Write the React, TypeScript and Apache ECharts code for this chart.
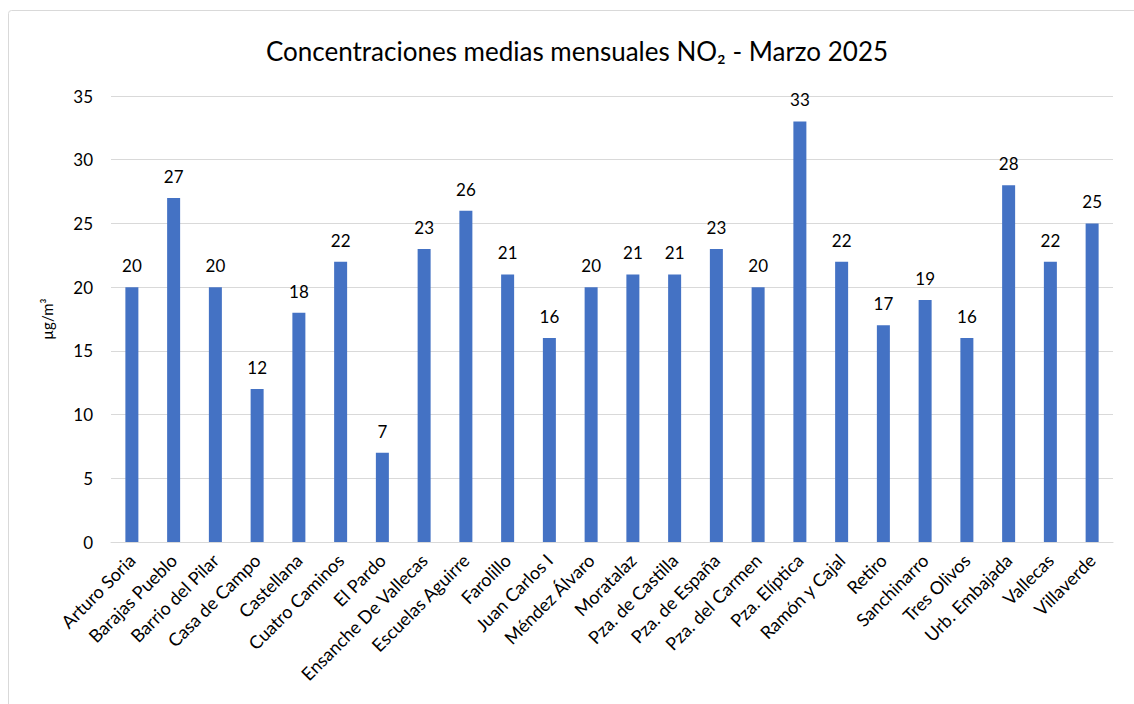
import React, { useEffect, useRef } from "react";
import * as echarts from "echarts";

const categories = [
  "Arturo Soria", "Barajas Pueblo", "Barrio del Pilar", "Casa de Campo", "Castellana",
  "Cuatro Caminos", "El Pardo", "Ensanche De Vallecas", "Escuelas Aguirre", "Farolillo",
  "Juan Carlos I", "Méndez Álvaro", "Moratalaz", "Pza. de Castilla", "Pza. de España",
  "Pza. del Carmen", "Pza. Elíptica", "Ramón y Cajal", "Retiro", "Sanchinarro",
  "Tres Olivos", "Urb. Embajada", "Vallecas", "Villaverde",
];
const values = [20, 27, 20, 12, 18, 22, 7, 23, 26, 21, 16, 20, 21, 21, 23, 20, 33, 22, 17, 19, 16, 28, 22, 25];
const titleText = "Concentraciones medias mensuales NO₂ - Marzo 2025";
const yAxisName = "µg/m³";

export default function App() {
  const ref = useRef<HTMLDivElement>(null);
  useEffect(() => {
    if (!ref.current) return;
    const chart = echarts.init(ref.current, undefined, { renderer: "svg" });
    const font = "Lato, 'Noto Sans', sans-serif";
    chart.setOption({
      animation: false,
      textStyle: { fontFamily: font },
      graphic: [
        {
          type: "rect",
          shape: { x: 8.5, y: 10.5, width: 1300, height: 900, r: 3 },
          style: { fill: "none", stroke: "#d9d9d9", lineWidth: 1 },
          silent: true,
          z: -10,
        },
      ],
      title: {
        text: titleText,
        left: 572,
        textAlign: "center",
        top: 33,
        textStyle: { fontFamily: font, fontSize: 26, fontWeight: "normal", color: "#000" },
      },
      grid: { left: 111, right: 21, top: 96, bottom: 162, containLabel: false },
      xAxis: {
        type: "category",
        data: categories,
        axisLine: { show: true, lineStyle: { color: "#d9d9d9", width: 1 } },
        axisTick: { show: false },
        axisLabel: {
          rotate: 45,
          interval: 0,
          fontFamily: font,
          fontSize: 18,
          color: "#000",
          margin: 15,
        },
      },
      yAxis: {
        type: "value",
        min: 0,
        max: 35,
        interval: 5,
        name: yAxisName,
        nameLocation: "middle",
        nameGap: 57,
        nameRotate: 90,
        nameTextStyle: { fontFamily: font, fontSize: 15, color: "#000" },
        axisLine: { show: false },
        axisTick: { show: false },
        axisLabel: { fontFamily: font, fontSize: 17, color: "#000", margin: 18 },
        splitLine: { lineStyle: { color: "#d9d9d9", width: 1 } },
      },
      series: [
        {
          type: "bar",
          data: values,
          barWidth: 13,
          itemStyle: { color: "#4472C4" },
          label: {
            show: true,
            position: "top",
            distance: 13,
            fontFamily: font,
            fontSize: 17,
            color: "#000",
          },
        },
      ],
    });
    return () => chart.dispose();
  }, []);
  return (
    <div
      ref={ref}
      style={{ position: "fixed", left: 0, top: 0, width: 1134, height: 704, background: "#fff" }}
    />
  );
}
